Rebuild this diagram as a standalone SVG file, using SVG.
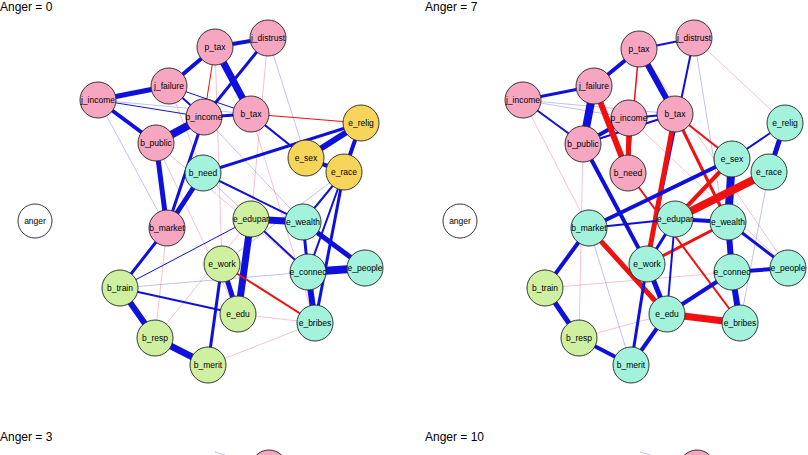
<svg xmlns="http://www.w3.org/2000/svg" width="808" height="455" viewBox="0 0 808 455">
<style>
text{font-family:"Liberation Sans",Arial,sans-serif;fill:#000}
.t{font-size:12px}
.n text{font-size:8.5px;text-anchor:middle;dominant-baseline:central}
circle{stroke:#222;stroke-width:0.9}
.pk{fill:#F6A6C1}.gr{fill:#CFF0A1}.tl{fill:#A2F2DC}.yl{fill:#F7D55A}.wh{fill:#fff}
.b{stroke:#1010DD;stroke-linecap:round}.r{stroke:#F01010;stroke-linecap:round}
.fb{stroke:#7070E8;stroke-opacity:0.55;stroke-width:0.8}.fr{stroke:#F07090;stroke-opacity:0.55;stroke-width:0.8}
</style>
<rect width="808" height="455" fill="#fff"/>
<text class="t" x="0" y="11">Anger = 0</text>
<text class="t" x="425" y="11">Anger = 7</text>
<text class="t" x="0" y="441">Anger = 3</text>
<text class="t" x="425" y="441">Anger = 10</text>
<g id="connectors">
<!-- left faint -->
<line class="fb" x1="268" y1="38" x2="306" y2="158"/>
<line class="fb" x1="98" y1="100" x2="167" y2="228"/>
<line class="fr" x1="169" y1="86" x2="203" y2="173"/>
<line class="fr" x1="167" y1="228" x2="155" y2="338"/>
<line class="fr" x1="215" y1="47" x2="222" y2="264"/>
<line class="fb" x1="98" y1="100" x2="251" y2="114"/>
<line class="fr" x1="251" y1="114" x2="315" y2="323"/>
<line class="fr" x1="156" y1="143" x2="308" y2="272"/>
<line class="fb" x1="203" y1="173" x2="308" y2="272"/>
<line class="fr" x1="238" y1="314" x2="315" y2="323"/>
<line class="fr" x1="208" y1="365" x2="315" y2="323"/>
<line class="fb" x1="120" y1="288" x2="308" y2="272"/>
<line class="fr" x1="155" y1="338" x2="251" y2="219"/>
<line class="fb" x1="204" y1="117" x2="303" y2="222"/>
<line class="fr" x1="268" y1="38" x2="251" y2="219"/>
<line class="fb" x1="344" y1="172" x2="222" y2="264"/>
<line class="fr" x1="156" y1="143" x2="238" y2="314"/>
<!-- left strong -->
<line class="b" x1="215" y1="47" x2="251" y2="114" stroke-width="7"/>
<line class="b" x1="215" y1="47" x2="268" y2="38" stroke-width="4"/>
<line class="b" x1="215" y1="47" x2="169" y2="86" stroke-width="4"/>
<line class="r" x1="215" y1="47" x2="204" y2="117" stroke-width="1"/>
<line class="b" x1="169" y1="86" x2="98" y2="100" stroke-width="5"/>
<line class="b" x1="98" y1="100" x2="156" y2="143" stroke-width="4"/>
<line class="b" x1="169" y1="86" x2="204" y2="117" stroke-width="2"/>
<line class="b" x1="169" y1="86" x2="251" y2="114" stroke-width="1"/>
<line class="b" x1="98" y1="100" x2="204" y2="117" stroke-width="1"/>
<line class="b" x1="204" y1="117" x2="156" y2="143" stroke-width="8"/>
<line class="b" x1="204" y1="117" x2="251" y2="114" stroke-width="3"/>
<line class="b" x1="268" y1="38" x2="204" y2="117" stroke-width="3"/>
<line class="b" x1="156" y1="143" x2="167" y2="228" stroke-width="5"/>
<line class="b" x1="203" y1="173" x2="167" y2="228" stroke-width="5"/>
<line class="b" x1="204" y1="117" x2="167" y2="228" stroke-width="3"/>
<line class="b" x1="203" y1="173" x2="361" y2="123" stroke-width="3"/>
<line class="r" x1="251" y1="114" x2="361" y2="123" stroke-width="1"/>
<line class="b" x1="251" y1="114" x2="306" y2="158" stroke-width="2"/>
<line class="b" x1="361" y1="123" x2="306" y2="158" stroke-width="6"/>
<line class="b" x1="361" y1="123" x2="344" y2="172" stroke-width="4"/>
<line class="b" x1="306" y1="158" x2="344" y2="172" stroke-width="4"/>
<line class="b" x1="344" y1="172" x2="315" y2="323" stroke-width="3"/>
<line class="b" x1="344" y1="172" x2="308" y2="272" stroke-width="2"/>
<line class="b" x1="344" y1="172" x2="303" y2="222" stroke-width="2"/>
<line class="b" x1="251" y1="219" x2="303" y2="222" stroke-width="7"/>
<line class="b" x1="251" y1="219" x2="238" y2="314" stroke-width="7"/>
<line class="b" x1="303" y1="222" x2="365" y2="268" stroke-width="5"/>
<line class="b" x1="308" y1="272" x2="365" y2="268" stroke-width="8"/>
<line class="b" x1="308" y1="272" x2="315" y2="323" stroke-width="6"/>
<line class="b" x1="303" y1="222" x2="308" y2="272" stroke-width="3"/>
<line class="b" x1="251" y1="219" x2="308" y2="272" stroke-width="2"/>
<line class="b" x1="203" y1="173" x2="303" y2="222" stroke-width="2"/>
<line class="b" x1="222" y1="264" x2="238" y2="314" stroke-width="5"/>
<line class="b" x1="222" y1="264" x2="208" y2="365" stroke-width="3"/>
<line class="r" x1="222" y1="264" x2="315" y2="323" stroke-width="2"/>
<line class="b" x1="120" y1="288" x2="155" y2="338" stroke-width="6"/>
<line class="b" x1="155" y1="338" x2="208" y2="365" stroke-width="7"/>
<line class="b" x1="167" y1="228" x2="120" y2="288" stroke-width="3"/>
<line class="b" x1="120" y1="288" x2="238" y2="314" stroke-width="2"/>
<line class="b" x1="251" y1="219" x2="120" y2="288" stroke-width="1"/>
<!-- right faint -->
<line class="fr" x1="523" y1="100" x2="589" y2="228"/>
<line class="fb" x1="523" y1="100" x2="675" y2="114"/>
<line class="fr" x1="694" y1="38" x2="785" y2="123"/>
<line class="fr" x1="639" y1="49" x2="788" y2="268"/>
<line class="fb" x1="694" y1="38" x2="732" y2="272"/>
<line class="fr" x1="583" y1="144" x2="579" y2="338"/>
<line class="fb" x1="589" y1="228" x2="631" y2="365"/>
<line class="fr" x1="545" y1="288" x2="732" y2="272"/>
<line class="fb" x1="769" y1="172" x2="740" y2="323"/>
<line class="fr" x1="629" y1="118" x2="788" y2="268"/>
<line class="fb" x1="523" y1="100" x2="629" y2="118"/>
<line class="fr" x1="667" y1="314" x2="579" y2="338"/>
<!-- right strong -->
<line class="b" x1="639" y1="49" x2="675" y2="114" stroke-width="6"/>
<line class="b" x1="639" y1="49" x2="594" y2="86" stroke-width="4"/>
<line class="b" x1="639" y1="49" x2="694" y2="38" stroke-width="2"/>
<line class="b" x1="594" y1="86" x2="583" y2="144" stroke-width="8"/>
<line class="b" x1="523" y1="100" x2="594" y2="86" stroke-width="3"/>
<line class="b" x1="523" y1="100" x2="583" y2="144" stroke-width="2"/>
<line class="b" x1="583" y1="144" x2="629" y2="118" stroke-width="4"/>
<line class="b" x1="629" y1="118" x2="675" y2="114" stroke-width="2"/>
<line class="b" x1="583" y1="144" x2="675" y2="114" stroke-width="2"/>
<line class="b" x1="694" y1="38" x2="647" y2="264" stroke-width="2"/>
<line class="r" x1="594" y1="86" x2="628" y2="173" stroke-width="6"/>
<line class="r" x1="629" y1="118" x2="628" y2="173" stroke-width="5"/>
<line class="r" x1="639" y1="49" x2="628" y2="173" stroke-width="1.5"/>
<line class="r" x1="675" y1="114" x2="647" y2="264" stroke-width="5"/>
<line class="r" x1="675" y1="114" x2="732" y2="159" stroke-width="2"/>
<line class="r" x1="675" y1="114" x2="728" y2="222" stroke-width="3"/>
<line class="r" x1="628" y1="173" x2="740" y2="323" stroke-width="2"/>
<line class="b" x1="583" y1="144" x2="647" y2="264" stroke-width="4"/>
<line class="b" x1="589" y1="228" x2="732" y2="159" stroke-width="4"/>
<line class="b" x1="589" y1="228" x2="675" y2="219" stroke-width="2"/>
<line class="r" x1="589" y1="228" x2="667" y2="314" stroke-width="5"/>
<line class="b" x1="732" y1="159" x2="728" y2="222" stroke-width="8"/>
<line class="b" x1="785" y1="123" x2="732" y2="159" stroke-width="2"/>
<line class="b" x1="785" y1="123" x2="769" y2="172" stroke-width="5"/>
<line class="r" x1="769" y1="172" x2="675" y2="219" stroke-width="8"/>
<line class="r" x1="732" y1="159" x2="675" y2="219" stroke-width="4"/>
<line class="b" x1="675" y1="219" x2="728" y2="222" stroke-width="4"/>
<line class="b" x1="728" y1="222" x2="732" y2="272" stroke-width="6"/>
<line class="b" x1="728" y1="222" x2="788" y2="268" stroke-width="3"/>
<line class="r" x1="728" y1="222" x2="647" y2="264" stroke-width="3"/>
<line class="b" x1="732" y1="272" x2="740" y2="323" stroke-width="6"/>
<line class="b" x1="732" y1="272" x2="788" y2="268" stroke-width="4"/>
<line class="r" x1="667" y1="314" x2="740" y2="323" stroke-width="7"/>
<line class="b" x1="667" y1="314" x2="732" y2="272" stroke-width="4"/>
<line class="b" x1="667" y1="314" x2="631" y2="365" stroke-width="4"/>
<line class="b" x1="647" y1="264" x2="667" y2="314" stroke-width="5"/>
<line class="b" x1="675" y1="219" x2="647" y2="264" stroke-width="3"/>
<line class="b" x1="675" y1="219" x2="667" y2="314" stroke-width="2"/>
<line class="b" x1="647" y1="264" x2="631" y2="365" stroke-width="3"/>
<line class="b" x1="631" y1="365" x2="579" y2="338" stroke-width="4"/>
<line class="b" x1="579" y1="338" x2="545" y2="288" stroke-width="5"/>
<line class="b" x1="545" y1="288" x2="589" y2="228" stroke-width="4"/>
<!-- bottom stubs -->
<line class="fb" x1="215" y1="452" x2="225" y2="455"/>
<line class="fb" x1="640" y1="452" x2="650" y2="455"/>
</g>
<g class="n">
<g id="L_p_tax"><circle class="pk" cx="215" cy="47" r="18"/><text x="215" y="47">p_tax</text></g>
<g id="L_j_distrust"><circle class="pk" cx="268" cy="38" r="18"/><text x="268" y="38">j_distrust</text></g>
<g id="L_j_failure"><circle class="pk" cx="169" cy="86" r="18"/><text x="169" y="86">j_failure</text></g>
<g id="L_j_income"><circle class="pk" cx="98" cy="100" r="18"/><text x="98" y="100">j_income</text></g>
<g id="L_p_income"><circle class="pk" cx="204" cy="117" r="18"/><text x="204" y="117">p_income</text></g>
<g id="L_b_tax"><circle class="pk" cx="251" cy="114" r="18"/><text x="251" y="114">b_tax</text></g>
<g id="L_e_relig"><circle class="yl" cx="361" cy="123" r="18"/><text x="361" y="123">e_relig</text></g>
<g id="L_b_public"><circle class="pk" cx="156" cy="143" r="18"/><text x="156" y="143">b_public</text></g>
<g id="L_e_sex"><circle class="yl" cx="306" cy="158" r="18"/><text x="306" y="158">e_sex</text></g>
<g id="L_e_race"><circle class="yl" cx="344" cy="172" r="18"/><text x="344" y="172">e_race</text></g>
<g id="L_b_need"><circle class="tl" cx="203" cy="173" r="18"/><text x="203" y="173">b_need</text></g>
<g id="L_anger"><circle class="wh" cx="35" cy="221" r="17"/><text x="35" y="221">anger</text></g>
<g id="L_b_market"><circle class="pk" cx="167" cy="228" r="18"/><text x="167" y="228">b_market</text></g>
<g id="L_e_edupar"><circle class="gr" cx="251" cy="219" r="18"/><text x="251" y="219">e_edupar</text></g>
<g id="L_e_wealth"><circle class="tl" cx="303" cy="222" r="18"/><text x="303" y="222">e_wealth</text></g>
<g id="L_e_work"><circle class="gr" cx="222" cy="264" r="18"/><text x="222" y="264">e_work</text></g>
<g id="L_e_connec"><circle class="tl" cx="308" cy="272" r="18"/><text x="308" y="272">e_connec</text></g>
<g id="L_e_people"><circle class="tl" cx="365" cy="268" r="18"/><text x="365" y="268">e_people</text></g>
<g id="L_b_train"><circle class="gr" cx="120" cy="288" r="18"/><text x="120" y="288">b_train</text></g>
<g id="L_e_edu"><circle class="gr" cx="238" cy="314" r="18"/><text x="238" y="314">e_edu</text></g>
<g id="L_e_bribes"><circle class="tl" cx="315" cy="323" r="18"/><text x="315" y="323">e_bribes</text></g>
<g id="L_b_resp"><circle class="gr" cx="155" cy="338" r="18"/><text x="155" y="338">b_resp</text></g>
<g id="L_b_merit"><circle class="gr" cx="208" cy="365" r="18"/><text x="208" y="365">b_merit</text></g>

<g id="R_p_tax"><circle class="pk" cx="639" cy="49" r="18"/><text x="639" y="49">p_tax</text></g>
<g id="R_j_distrust"><circle class="pk" cx="694" cy="38" r="18"/><text x="694" y="38">j_distrust</text></g>
<g id="R_j_failure"><circle class="pk" cx="594" cy="86" r="18"/><text x="594" y="86">j_failure</text></g>
<g id="R_j_income"><circle class="pk" cx="523" cy="100" r="18"/><text x="523" y="100">j_income</text></g>
<g id="R_p_income"><circle class="pk" cx="629" cy="118" r="18"/><text x="629" y="118">p_income</text></g>
<g id="R_b_tax"><circle class="pk" cx="675" cy="114" r="18"/><text x="675" y="114">b_tax</text></g>
<g id="R_e_relig"><circle class="tl" cx="785" cy="123" r="18"/><text x="785" y="123">e_relig</text></g>
<g id="R_b_public"><circle class="pk" cx="583" cy="144" r="18"/><text x="583" y="144">b_public</text></g>
<g id="R_e_sex"><circle class="tl" cx="732" cy="159" r="18"/><text x="732" y="159">e_sex</text></g>
<g id="R_e_race"><circle class="tl" cx="769" cy="172" r="18"/><text x="769" y="172">e_race</text></g>
<g id="R_b_need"><circle class="pk" cx="628" cy="173" r="18"/><text x="628" y="173">b_need</text></g>
<g id="R_anger"><circle class="wh" cx="460" cy="221" r="17"/><text x="460" y="221">anger</text></g>
<g id="R_b_market"><circle class="tl" cx="589" cy="228" r="18"/><text x="589" y="228">b_market</text></g>
<g id="R_e_edupar"><circle class="tl" cx="675" cy="219" r="18"/><text x="675" y="219">e_edupar</text></g>
<g id="R_e_wealth"><circle class="tl" cx="728" cy="222" r="18"/><text x="728" y="222">e_wealth</text></g>
<g id="R_e_work"><circle class="tl" cx="647" cy="264" r="18"/><text x="647" y="264">e_work</text></g>
<g id="R_e_connec"><circle class="tl" cx="732" cy="272" r="18"/><text x="732" y="272">e_connec</text></g>
<g id="R_e_people"><circle class="tl" cx="788" cy="268" r="18"/><text x="788" y="268">e_people</text></g>
<g id="R_b_train"><circle class="gr" cx="545" cy="288" r="18"/><text x="545" y="288">b_train</text></g>
<g id="R_e_edu"><circle class="tl" cx="667" cy="314" r="18"/><text x="667" y="314">e_edu</text></g>
<g id="R_e_bribes"><circle class="tl" cx="740" cy="323" r="18"/><text x="740" y="323">e_bribes</text></g>
<g id="R_b_resp"><circle class="gr" cx="579" cy="338" r="18"/><text x="579" y="338">b_resp</text></g>
<g id="R_b_merit"><circle class="tl" cx="631" cy="365" r="18"/><text x="631" y="365">b_merit</text></g>

<g id="BL_j_distrust"><circle class="pk" cx="269" cy="468" r="18"/></g>
<g id="BR_j_distrust"><circle class="pk" cx="697" cy="468" r="18"/></g>
</g>
</svg>
